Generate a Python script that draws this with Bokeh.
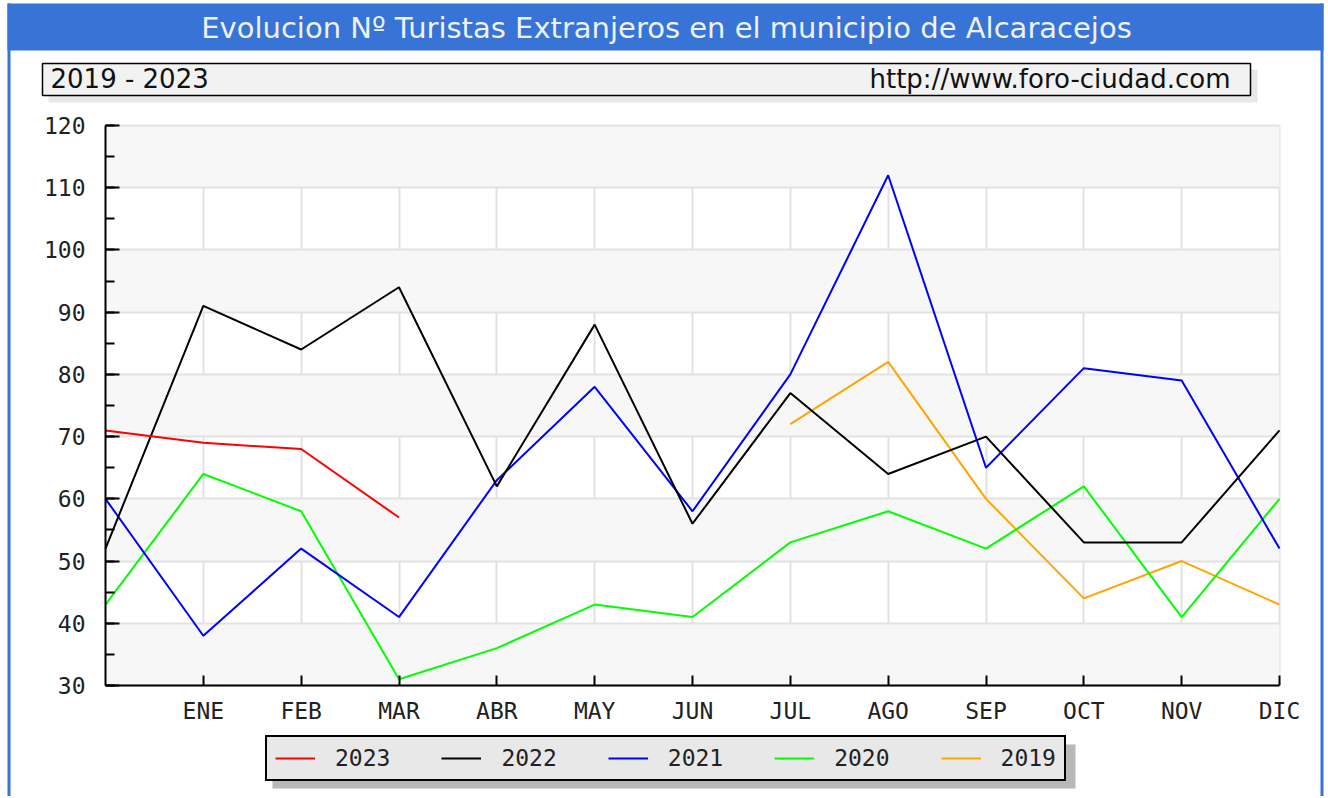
from bokeh.plotting import figure
from bokeh.models import (Range1d, SingleIntervalTicker, FixedTicker, Legend, BoxAnnotation,
                          Label, LinearAxis, Grid)
from bokeh.embed import file_html
from bokeh.resources import INLINE

# ---------------- data ----------------
positions = [0, 1, 2, 3, 4, 5, 6, 7, 8, 9, 10, 11, 12]
month_labels = ["ENE", "FEB", "MAR", "ABR", "MAY", "JUN",
                "JUL", "AGO", "SEP", "OCT", "NOV", "DIC"]
y_min, y_max, y_step = 30, 120, 10
y_ticks = [30, 40, 50, 60, 70, 80, 90, 100, 110, 120]

s2023 = [71, 69, 68, 57]
s2022 = [52, 91, 84, 94, 62, 88, 56, 77, 64, 70, 53, 53, 71]
s2021 = [60, 38, 52, 41, 63, 78, 58, 80, 112, 65, 81, 79, 52]
s2020 = [43, 64, 58, 31, 36, 43, 41, 53, 58, 52, 62, 41, 60]
s2019 = [72, 82, 60, 44, 50, 43]          # JUL .. DIC
pos2019 = positions[7:]
pos2023 = positions[:4]

series_names = ["2023", "2022", "2021", "2020", "2019"]
series_colors = ["#ff0000", "#000000", "#0000ff", "#00ff00", "#ffa500"]

title_text = "Evolucion Nº Turistas Extranjeros en el municipio de Alcaracejos"
sub_left = "2019 - 2023"
sub_right = "http://www.foro-ciudad.com"

# ---------------- layout constants (pixels) ----------------
BLUE = "#3873d6"
W, H = 1326, 796
PL, PR, PT, PB = 105, 1279, 125, 685     # plot area edges in canvas pixels

XS = (positions[-1] - positions[0]) / (PR - PL)
YS = (y_max - y_min) / (PB - PT)
def dx(px):
    return positions[0] + (px - PL) * XS
def dy(py):
    return y_min + (PB - py) * YS

p = figure(width=W, height=H,
           x_range=Range1d(dx(0), dx(W)), y_range=Range1d(dy(H), dy(0)),
           x_axis_location=None, y_axis_location=None,
           output_backend="svg", toolbar_location=None, min_border=0)
p.grid.visible = False          # hide default (axis-less) grids
p.outline_line_color = None
p.background_fill_color = "white"
p.border_fill_color = "white"

# ---------------- grids ----------------
month_ticker = FixedTicker(ticks=positions[1:])
has_cb = "cross_bounds" in Grid.properties()
gkw_x = {"cross_bounds": (y_min, y_max)} if has_cb else {}
gkw_y = {"cross_bounds": (positions[0], positions[-1])} if has_cb else {}

xgrid = Grid(dimension=0, ticker=month_ticker, bounds=(positions[0], positions[-1]),
             grid_line_color="#e2e2e2", grid_line_width=2, **gkw_x)
ygrid = Grid(dimension=1, ticker=FixedTicker(ticks=y_ticks), bounds=(y_min, y_max),
             grid_line_color="#e2e2e2", grid_line_width=2,
             band_fill_color="#f7f7f7", band_fill_alpha=1.0, **gkw_y)
p.add_layout(xgrid)
p.add_layout(ygrid)

# ---------------- axes ----------------
xaxis = LinearAxis(fixed_location=y_min, bounds=(positions[0], positions[-1]),
                   ticker=month_ticker)
xaxis.major_label_overrides = {pos: lab for pos, lab in zip(positions[1:], month_labels)}
xaxis.major_tick_in = 10
xaxis.major_tick_out = 0
xaxis.minor_tick_line_color = None
xaxis.axis_line_width = 2
xaxis.major_tick_line_width = 2
xaxis.major_label_text_font = "DejaVu Sans Mono"
xaxis.major_label_text_font_size = "23px"
xaxis.major_label_text_color = "#222222"
xaxis.major_label_standoff = 12
p.add_layout(xaxis, "below")

yaxis = LinearAxis(fixed_location=positions[0], bounds=(y_min, y_max),
                   ticker=SingleIntervalTicker(interval=y_step, num_minor_ticks=2))
yaxis.major_tick_in = 14
yaxis.major_tick_out = 0
yaxis.minor_tick_in = 9
yaxis.minor_tick_out = 0
yaxis.axis_line_width = 2
yaxis.major_tick_line_width = 2
yaxis.minor_tick_line_width = 2
yaxis.major_label_text_font = "DejaVu Sans Mono"
yaxis.major_label_text_font_size = "23px"
yaxis.major_label_text_color = "#222222"
yaxis.major_label_standoff = 20
p.add_layout(yaxis, "left")

# ---------------- series ----------------
r2019 = p.line(pos2019, s2019, line_color=series_colors[4], line_width=2)
r2020 = p.line(positions, s2020, line_color=series_colors[3], line_width=2)
r2021 = p.line(positions, s2021, line_color=series_colors[2], line_width=2)
r2022 = p.line(positions, s2022, line_color=series_colors[1], line_width=2)
r2023 = p.line(pos2023, s2023, line_color=series_colors[0], line_width=2)

# ---------------- page decorations ----------------
p.add_layout(BoxAnnotation(left=dx(7), right=dx(1323), top=dy(3), bottom=dy(50),
                           fill_color=BLUE, fill_alpha=1.0, line_color=None))
p.add_layout(BoxAnnotation(left=dx(7), right=dx(10), top=dy(3), bottom=dy(H),
                           fill_color=BLUE, fill_alpha=1.0, line_color=None))
p.add_layout(BoxAnnotation(left=dx(1320), right=dx(1323), top=dy(3), bottom=dy(H),
                           fill_color=BLUE, fill_alpha=1.0, line_color=None))
p.add_layout(Label(x=dx(666), y=dy(27), text=title_text, text_align="center",
                   text_baseline="middle", text_font="DejaVu Sans",
                   text_font_size="29px", text_color="#eef2fb"))
# subtitle box with shadow
p.add_layout(BoxAnnotation(left=dx(48), right=dx(1257), top=dy(69), bottom=dy(102),
                           fill_color="#e8e8e8", fill_alpha=1.0, line_color=None))
p.add_layout(BoxAnnotation(left=dx(42), right=dx(1250), top=dy(63), bottom=dy(95),
                           fill_color="#f2f2f2", fill_alpha=1.0,
                           line_color="black", line_width=1.5, line_alpha=1.0))
p.add_layout(Label(x=dx(50), y=dy(78), text=sub_left, text_align="left",
                   text_baseline="middle", text_font="DejaVu Sans",
                   text_font_size="26px", text_color="#111111"))
p.add_layout(Label(x=dx(1230), y=dy(78), text=sub_right, text_align="right",
                   text_baseline="middle", text_font="DejaVu Sans",
                   text_font_size="26px", text_color="#111111"))
# legend shadow
p.add_layout(BoxAnnotation(left=dx(272), right=dx(1075), top=dy(744), bottom=dy(788),
                           fill_color="#b8b8b8", fill_alpha=1.0, line_color=None))

# ---------------- legend ----------------
legend = Legend(items=[(series_names[0], [r2023]), (series_names[1], [r2022]),
                       (series_names[2], [r2021]), (series_names[3], [r2020]),
                       (series_names[4], [r2019])],
                orientation="horizontal", location=(265, H - 781))
legend.background_fill_color = "#e8e8e8"
legend.background_fill_alpha = 1.0
legend.border_line_color = "black"
legend.border_line_width = 2
legend.border_line_alpha = 1.0
legend.label_text_font = "DejaVu Sans Mono"
legend.label_text_font_size = "23px"
legend.label_text_color = "#222222"
legend.glyph_width = 40
legend.glyph_height = 20
legend.label_standoff = 20
legend.spacing = 51
legend.padding = 8
legend.margin = 0
p.add_layout(legend, "center")

open("out.html", "w").write(file_html(p, INLINE))
